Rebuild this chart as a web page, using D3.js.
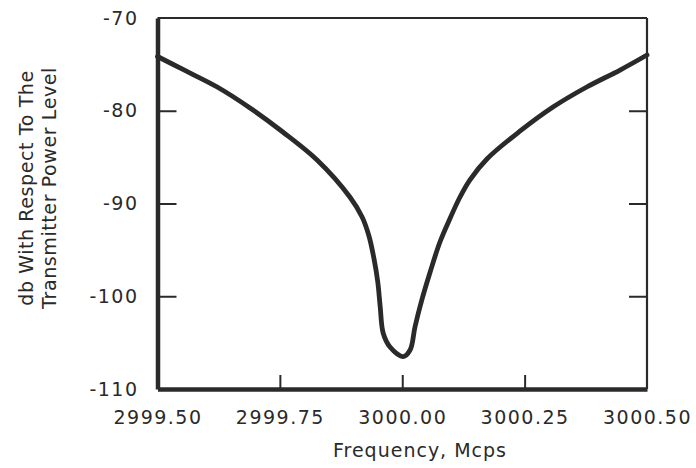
<!DOCTYPE html>
<html>
<head>
<meta charset="utf-8">
<script src="https://cdn.jsdelivr.net/npm/d3@7"></script>
<style>
  html, body { margin: 0; padding: 0; background: #fff; }
  svg { display: block; }
  .lbl { font-family: "DejaVu Sans", sans-serif; fill: #2a2a2a; }
</style>
</head>
<body>
<svg id="chart" width="696" height="468"></svg>
<script>
// Response around the 3000 Mcps carrier
const frequency = [
  2999.500, 2999.552, 2999.622, 2999.689, 2999.756, 2999.826, 2999.893,
  2999.918, 2999.932, 2999.942, 2999.950, 2999.955, 2999.961, 2999.975,
  3000.002, 3000.016, 3000.026, 3000.040, 3000.057, 3000.077, 3000.098,
  3000.118, 3000.138, 3000.173, 3000.241, 3000.308, 3000.377, 3000.445,
  3000.500
];
const levelDb = [
  -74.15, -75.55, -77.44, -79.70, -82.29, -85.31, -89.30,
  -91.46, -93.50, -95.88, -98.46, -101.16, -103.96, -105.47,
  -106.50, -105.80, -103.32, -100.40, -97.39, -94.15, -91.56,
  -89.30, -87.47, -85.20, -82.18, -79.60, -77.44, -75.61,
  -73.99
];
const xTicks = [2999.50, 2999.75, 3000.00, 3000.25, 3000.50];
const yTicks = [-70, -80, -90, -100, -110];
const yInnerTicks = [-80, -90, -100];
const xTitle = "Frequency, Mcps";
const yTitleLines = ["db With Respect To The", "Transmitter Power Level"];

const ink = "#2a2a2a";
const plotLeft = 157.5, plotRight = 647, plotTop = 18, plotBottom = 389;

const svg = d3.select("#chart");

const x = d3.scaleLinear().domain([2999.5, 3000.5]).range([plotLeft, plotRight]);
const y = d3.scaleLinear().domain([-110, -70]).range([plotBottom, plotTop]);

// Frame: heavy left and bottom edges, light top and right edges
svg.append("line").attr("x1", plotLeft).attr("x2", plotRight).attr("y1", plotTop).attr("y2", plotTop)
  .attr("stroke", ink).attr("stroke-width", 2.2);
svg.append("line").attr("x1", plotRight).attr("x2", plotRight).attr("y1", plotTop).attr("y2", plotBottom)
  .attr("stroke", ink).attr("stroke-width", 2.2);

// Left axis: inward ticks, labels to the left
const yAxis = d3.axisLeft(y).tickValues(yTicks)
  .tickSizeInner(-19).tickSizeOuter(0).tickPadding(19)
  .tickFormat(d => "-" + Math.abs(d));
const gy = svg.append("g").attr("transform", `translate(${plotLeft},0)`).call(yAxis);
gy.select(".domain").attr("stroke", ink).attr("stroke-width", 4.5);
gy.selectAll(".tick line").attr("stroke", ink).attr("stroke-width", 2)
  .attr("display", d => yInnerTicks.includes(d) ? null : "none");
gy.selectAll(".tick text").attr("class", "lbl").attr("font-size", 19)
  .attr("letter-spacing", 1.5).attr("fill", ink);

// Right edge: inward ticks only
const yRight = d3.axisRight(y).tickValues(yInnerTicks)
  .tickSizeInner(-18).tickSizeOuter(0).tickFormat("");
const gr = svg.append("g").attr("transform", `translate(${plotRight},0)`).call(yRight);
gr.select(".domain").remove();
gr.selectAll(".tick line").attr("stroke", ink).attr("stroke-width", 2);

// Bottom axis: upward ticks
const xAxis = d3.axisBottom(x).tickValues(xTicks)
  .tickSizeInner(-14).tickSizeOuter(0).tickPadding(22)
  .tickFormat(d3.format(".2f"));
const gx = svg.append("g").attr("transform", `translate(0,${plotBottom})`).call(xAxis);
gx.select(".domain").attr("stroke", ink).attr("stroke-width", 4.5);
gx.selectAll(".tick line").attr("stroke", ink).attr("stroke-width", 2)
  .attr("display", d => (d === xTicks[0] || d === xTicks[xTicks.length - 1]) ? "none" : null);
gx.selectAll(".tick text").attr("class", "lbl").attr("font-size", 19)
  .attr("letter-spacing", 1.5).attr("fill", ink);

// Response curve
const line = d3.line()
  .x((d, i) => x(frequency[i]))
  .y(d => y(d))
  .curve(d3.curveCatmullRom.alpha(0.5));
svg.append("path").datum(levelDb)
  .attr("d", line)
  .attr("fill", "none")
  .attr("stroke", ink)
  .attr("stroke-width", 4.8)
  .attr("stroke-linejoin", "round")
  .attr("stroke-linecap", "round");

// Axis titles
svg.append("text").attr("class", "lbl")
  .attr("x", 420).attr("y", 457)
  .attr("text-anchor", "middle").attr("font-size", 19).attr("letter-spacing", 1)
  .text(xTitle);

const yt = svg.append("text").attr("class", "lbl")
  .attr("transform", "translate(0,188) rotate(-90)")
  .attr("text-anchor", "middle").attr("font-size", 19).attr("letter-spacing", 0.6);
yTitleLines.forEach((t, i) => {
  yt.append("tspan").attr("x", 0).attr("y", 33 + i * 23).text(t);
});
</script>
</body>
</html>
